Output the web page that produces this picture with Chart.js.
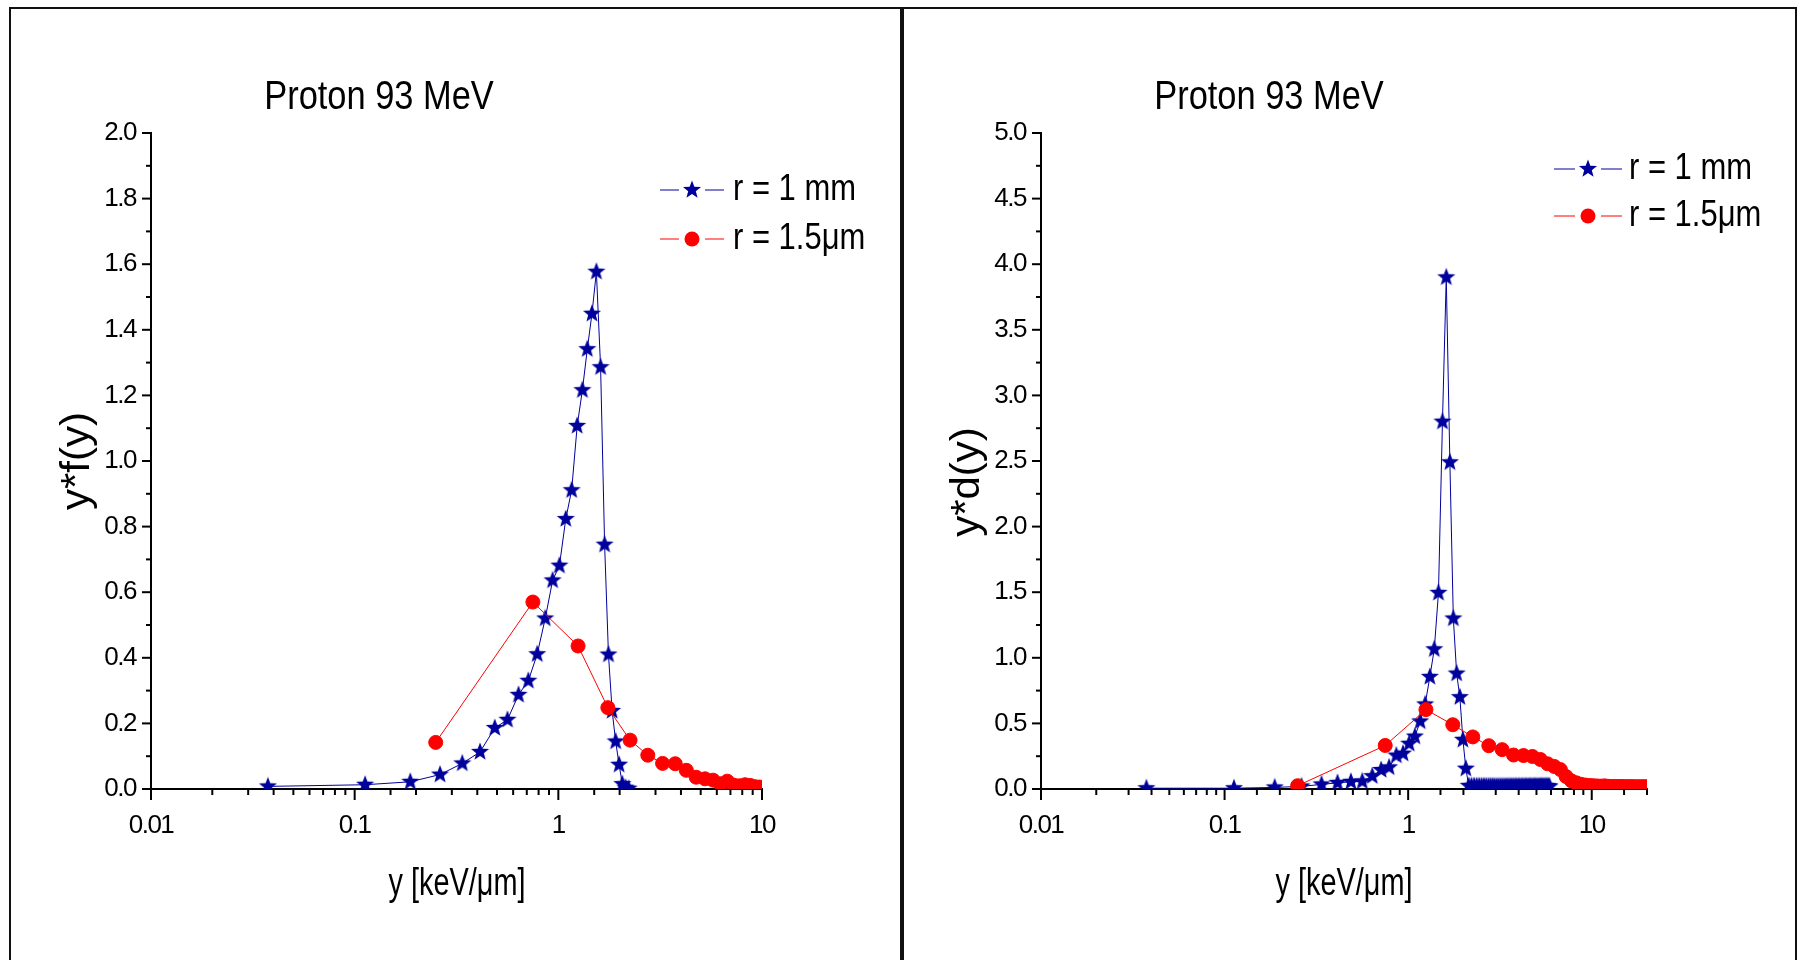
<!DOCTYPE html>
<html>
<head>
<meta charset="utf-8">
<title>Proton 93 MeV</title>
<script src="https://cdn.jsdelivr.net/npm/chart.js@4.4.0/dist/chart.umd.min.js"></script>
<style>
  body { margin: 0; background: #fff; }
  #page { position: relative; width: 1801px; height: 960px; overflow: hidden; background: #fff; }
  .panel { position: absolute; top: 7px; height: 1000px; border: 2px solid #111; box-sizing: border-box; }
  canvas { position: absolute; top: 0; }
</style>
</head>
<body>
<div id="page">
  <div class="panel" style="left:9px; width:893px;"></div>
  <div class="panel" style="left:902px; width:895px;"></div>
  <canvas id="chartF" width="900" height="960" style="left:0px"></canvas>
  <canvas id="chartD" width="900" height="960" style="left:900px"></canvas>
</div>
<script>
  // text
  var titleText = "Proton 93 MeV";
  var xTitleText = "y [keV/\u03bcm]";
  var legendLabels = ["r = 1 mm", "r = 1.5\u03bcm"];
  var xTickValues = [0.01, 0.1, 1, 10];
  var xTickLabels = ["0.01", "0.1", "1", "10"];

  // left panel, y*f(y)
  var yBlueF = [0.0375, 0.1125, 0.1875, 0.2625, 0.3375, 0.4125, 0.4875, 0.5625, 0.6375, 0.7125,
    0.7875, 0.8625, 0.9375, 1.0125, 1.0875, 1.1625, 1.2375, 1.3125, 1.3875, 1.4625,
    1.5375, 1.6125, 1.6875, 1.7625, 1.8375, 1.9125, 1.9875, 2.0625, 2.1375, 2.2125];
  var fBlue = [0.008, 0.013, 0.022, 0.044, 0.078, 0.113, 0.186, 0.211, 0.287, 0.330,
    0.411, 0.520, 0.636, 0.681, 0.823, 0.911, 1.107, 1.216, 1.341, 1.449,
    1.577, 1.286, 0.745, 0.410, 0.238, 0.145, 0.074, 0.015, 0.004, 0.001];
  var yRedF = [0.25, 0.75, 1.25, 1.75, 2.25, 2.75, 3.25, 3.75, 4.25, 4.75,
    5.25, 5.75, 6.25, 6.75, 7.25, 7.75, 8.25, 8.75, 9.25, 9.75];
  var fRed = [0.142, 0.570, 0.436, 0.248, 0.149, 0.103, 0.078, 0.077, 0.057, 0.036,
    0.031, 0.027, 0.016, 0.024, 0.012, 0.010, 0.013, 0.011, 0.007, 0.006];

  // right panel, y*d(y)
  var yBlueD = [0.0375, 0.1125, 0.1875, 0.2625, 0.3375, 0.4125, 0.4875, 0.5625, 0.6375, 0.7125,
    0.7875, 0.8625, 0.9375, 1.0125, 1.0875, 1.1625, 1.2375, 1.3125, 1.3875, 1.4625,
    1.5375, 1.6125, 1.6875, 1.7625, 1.8375, 1.9125, 1.9875, 2.0625,
    2.1375, 2.2125, 2.2875, 2.3625, 2.4375, 2.5125, 2.5875, 2.6625, 2.7375, 2.8125, 2.8875, 2.9625,
    3.0375, 3.1125, 3.1875, 3.2625, 3.3375, 3.4125, 3.4875, 3.5625, 3.6375, 3.7125, 3.7875, 3.8625, 3.9375,
    4.0125, 4.0875, 4.1625, 4.2375, 4.3125, 4.3875, 4.4625, 4.5375, 4.6125, 4.6875, 4.7625, 4.8375, 4.9125, 4.9875,
    5.0625, 5.1375, 5.2125, 5.2875, 5.3625, 5.4375, 5.5125, 5.5875, 5.6625, 5.7375, 5.8125, 5.8875];
  var dBlue = [0.006, 0.006, 0.012, 0.020, 0.035, 0.047, 0.055, 0.058, 0.098, 0.145,
    0.165, 0.255, 0.270, 0.345, 0.400, 0.515, 0.645, 0.855, 1.065, 1.495,
    2.800, 3.900, 2.490, 1.300, 0.880, 0.700, 0.375, 0.155,
    0.024, 0.023, 0.023, 0.022, 0.022, 0.022, 0.021, 0.021, 0.021, 0.021, 0.021, 0.020,
    0.020, 0.020, 0.020, 0.020, 0.020, 0.020, 0.020, 0.020, 0.020, 0.020, 0.020, 0.020, 0.020,
    0.020, 0.020, 0.020, 0.020, 0.020, 0.020, 0.020, 0.020, 0.020, 0.020, 0.020, 0.020, 0.020, 0.020,
    0.020, 0.020, 0.020, 0.020, 0.020, 0.020, 0.020, 0.020, 0.020, 0.020, 0.020, 0.020];
  var yRedD = [0.25, 0.75, 1.25, 1.75, 2.25, 2.75, 3.25, 3.75, 4.25, 4.75,
    5.25, 5.75, 6.25, 6.75, 7.25, 7.75, 8.25, 8.75, 9.25, 9.75,
    10.25, 10.75, 11.25, 11.75, 12.25, 12.75, 13.25, 13.75, 14.25, 14.75,
    15.25, 15.75, 16.25, 16.75, 17.25, 17.75, 18.25, 18.75, 19.25, 19.75];
  var dRed = [0.025, 0.332, 0.605, 0.490, 0.397, 0.330, 0.300, 0.259, 0.255, 0.248,
    0.225, 0.192, 0.172, 0.148, 0.095, 0.062, 0.047, 0.036, 0.030, 0.027,
    0.025, 0.023, 0.022, 0.024, 0.021, 0.020, 0.020, 0.019, 0.019, 0.019,
    0.018, 0.018, 0.018, 0.018, 0.017, 0.017, 0.017, 0.017, 0.017, 0.017];

  var navy = "#00009c";
  var red = "#ff0000";
  var fontFamily = '"Liberation Sans", Arial, sans-serif';

  function makeStar(color) {
    var c = document.createElement('canvas');
    c.width = 20;
    c.height = 20;
    var g = c.getContext('2d');
    g.fillStyle = color;
    g.beginPath();
    for (var i = 0; i < 10; i++) {
      var r = i % 2 === 0 ? 9.5 : 4;
      var a = -Math.PI / 2 + i * Math.PI / 5;
      g.lineTo(10 + r * Math.cos(a), 10 + r * Math.sin(a));
    }
    g.closePath();
    g.fill();
    return c;
  }
  var starImg = makeStar(navy);

  function toPoints(xs, ys) {
    return xs.map(function (x, i) { return {x: x, y: ys[i]}; });
  }

  function drawText(ctx, txt, x, y, size, sx, rot, align) {
    ctx.save();
    ctx.translate(x, y);
    if (rot) ctx.rotate(rot);
    ctx.scale(sx, 1);
    ctx.letterSpacing = '0px';
    ctx.font = size + 'px ' + fontFamily;
    ctx.textAlign = align || 'center';
    ctx.textBaseline = 'middle';
    ctx.fillStyle = '#000';
    ctx.fillText(txt, 0, 0);
    ctx.restore();
  }

  // titles, legend and the tick marks (major + minor)
  function panelPlugin(p) {
    return {
      id: 'panelDeco',
      beforeDraw: function (chart) {
        chart.ctx.letterSpacing = '-1.5px';
      },
      afterDraw: function (chart) {
        var ctx = chart.ctx;
        var xs = chart.scales.x, ys = chart.scales.y;
        ctx.save();
        ctx.strokeStyle = '#000';
        ctx.lineWidth = 2;
        xs.ticks.forEach(function (t) {
          var px = xs.getPixelForValue(t.value);
          var lg = Math.log10(t.value);
          var major = Math.abs(lg - Math.round(lg)) < 1e-6;
          ctx.beginPath();
          ctx.moveTo(px, xs.top);
          ctx.lineTo(px, xs.top + (major ? 11 : 6));
          ctx.stroke();
        });
        for (var i = 0; i < ys.ticks.length; i++) {
          var py = ys.getPixelForValue(ys.ticks[i].value);
          ctx.beginPath();
          ctx.moveTo(ys.right - 9, py);
          ctx.lineTo(ys.right, py);
          ctx.stroke();
          if (i < ys.ticks.length - 1) {
            var mid = (py + ys.getPixelForValue(ys.ticks[i + 1].value)) / 2;
            ctx.beginPath();
            ctx.moveTo(ys.right - 5, mid);
            ctx.lineTo(ys.right, mid);
            ctx.stroke();
          }
        }
        ctx.restore();

        drawText(ctx, titleText, p.title[0], p.title[1], 40, 0.86);
        drawText(ctx, xTitleText, p.xTitle[0], p.xTitle[1], 39, 0.74);
        drawText(ctx, p.yTitle, p.yTitlePos[0], p.yTitlePos[1], 40, 1.05, -Math.PI / 2);

        // legend
        var lg = p.legend;
        var cx = (lg.x0 + lg.x1) / 2;
        ctx.save();
        ctx.lineWidth = 1;
        [navy, red].forEach(function (col, k) {
          var ry = lg.rows[k];
          ctx.strokeStyle = col;
          ctx.beginPath();
          ctx.moveTo(lg.x0, ry); ctx.lineTo(cx - 13, ry);
          ctx.moveTo(cx + 13, ry); ctx.lineTo(lg.x1, ry);
          ctx.stroke();
          if (k === 0) {
            ctx.drawImage(starImg, cx - 10, ry - 10);
          } else {
            ctx.fillStyle = red;
            ctx.beginPath();
            ctx.arc(cx, ry, 7.5, 0, Math.PI * 2);
            ctx.fill();
          }
        });
        ctx.restore();
        drawText(ctx, legendLabels[0], lg.tx, lg.rows[0], 36, 0.86, 0, 'left');
        drawText(ctx, legendLabels[1], lg.tx, lg.rows[1], 36, 0.86, 0, 'left');
      }
    };
  }

  function makeChart(id, p) {
    var ctx = document.getElementById(id).getContext('2d');
    return new Chart(ctx, {
      type: 'line',
      data: {
        datasets: [
          {
            label: legendLabels[0],
            data: toPoints(p.blueX, p.blueY),
            borderColor: navy,
            borderWidth: 1,
            pointStyle: starImg,
            pointRadius: 9,
            tension: 0,
            order: 1
          },
          {
            label: legendLabels[1],
            data: toPoints(p.redX, p.redY),
            borderColor: red,
            backgroundColor: red,
            borderWidth: 1,
            pointStyle: 'circle',
            pointRadius: 7,
            pointBackgroundColor: red,
            pointBorderColor: red,
            pointBorderWidth: 1,
            tension: 0,
            order: 0
          }
        ]
      },
      options: {
        responsive: false,
        animation: false,
        devicePixelRatio: 1,
        events: [],
        layout: {
          autoPadding: false,
          padding: {left: 0, top: p.top, right: 900 - p.right, bottom: 0}
        },
        plugins: {
          legend: {display: false},
          tooltip: {enabled: false},
          title: {display: false}
        },
        scales: {
          x: {
            type: 'logarithmic',
            min: 0.01,
            max: p.xMax,
            afterFit: function (scale) { scale.height = 960 - p.bottom; },
            grid: {display: false, drawTicks: false},
            border: {display: true, color: '#000', width: 2},
            ticks: {
              autoSkip: false,
              maxRotation: 0,
              padding: 21,
              color: '#000',
              font: {family: fontFamily, size: 26},
              callback: function (v) {
                for (var i = 0; i < xTickValues.length; i++) {
                  if (Math.abs(v - xTickValues[i]) / xTickValues[i] < 1e-6) return xTickLabels[i];
                }
                return '';
              }
            }
          },
          y: {
            type: 'linear',
            min: 0,
            max: p.yMax,
            afterFit: function (scale) { scale.width = p.left; },
            grid: {display: false, drawTicks: false},
            border: {display: true, color: '#000', width: 2},
            ticks: {
              stepSize: p.yStep,
              padding: 15,
              color: '#000',
              font: {family: fontFamily, size: 26},
              callback: function (v) { return Number(v).toFixed(1); }
            }
          }
        }
      },
      plugins: [panelPlugin(p)]
    });
  }

  var chartF = makeChart('chartF', {
    blueX: yBlueF, blueY: fBlue, redX: yRedF, redY: fRed,
    left: 151, right: 762, top: 133, bottom: 789,
    xMax: 10, yMax: 2, yStep: 0.2,
    title: [379, 98], xTitle: [457, 884],
    yTitle: 'y*f(y)', yTitlePos: [78, 461],
    legend: {x0: 660, x1: 724, tx: 733, rows: [190, 239]}
  });

  var chartD = makeChart('chartD', {
    blueX: yBlueD, blueY: dBlue, redX: yRedD, redY: dRed,
    left: 141, right: 747, top: 133, bottom: 789,
    xMax: 20, yMax: 5, yStep: 0.5,
    title: [369, 98], xTitle: [444, 884],
    yTitle: 'y*d(y)', yTitlePos: [68, 482],
    legend: {x0: 654, x1: 722, tx: 729, rows: [169, 216]}
  });
</script>
</body>
</html>
